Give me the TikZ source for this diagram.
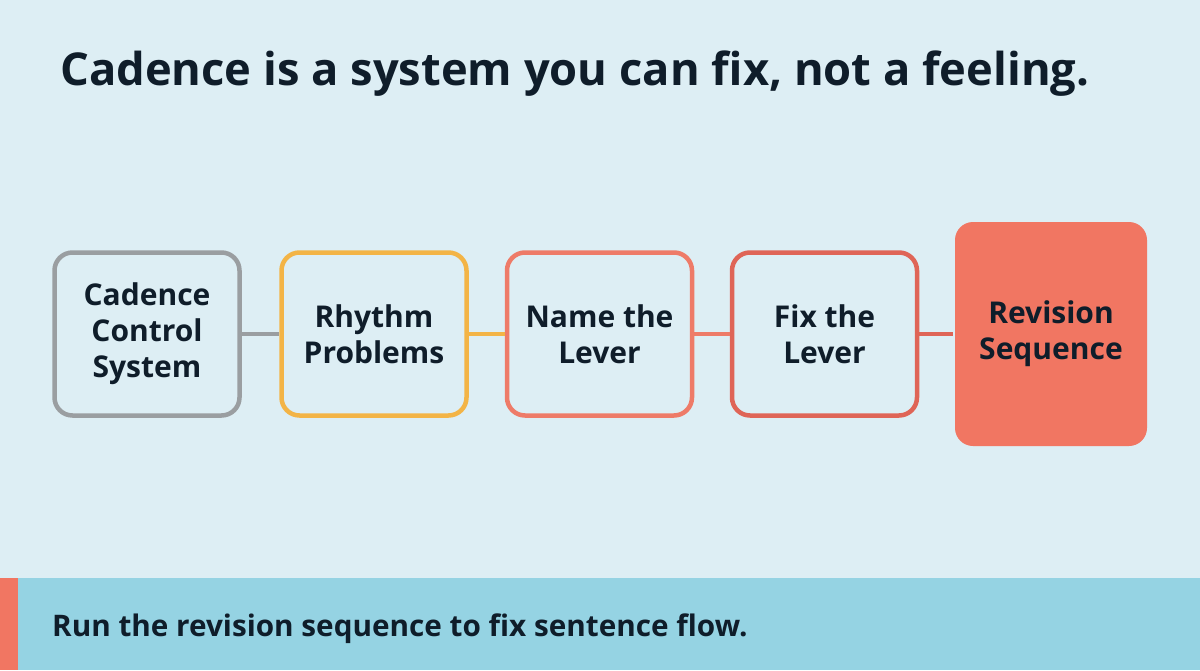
\documentclass[tikz,border=0pt]{standalone}
\usepackage{fontspec}
\setmainfont{Open Sans}
\usepackage{xcolor}
\usetikzlibrary{positioning}
\definecolor{fondo}{HTML}{DDEEF4}
\definecolor{banda}{HTML}{95D3E3}
\definecolor{tinta}{HTML}{0F1D2A}
\definecolor{gris}{HTML}{9A9EA1}
\definecolor{naranja}{HTML}{F3B446}
\definecolor{salmon}{HTML}{EE7B68}
\definecolor{rojo}{HTML}{DF6557}
\definecolor{coral}{HTML}{F17662}
\tikzset{
  etapa/.style  = {draw=#1, line width=4.5pt, rounded corners=18pt, minimum width=185pt,
                   minimum height=163pt, align=center, text=tinta,
                   font=\bfseries\fontsize{30}{36}\selectfont},
  enlace/.style = {draw=#1, line width=4.5pt}
}

\begin{document}
\begin{tikzpicture}[x=1pt, y=-1pt]
  \useasboundingbox (0,0) rectangle (1200,670);
  \fill[fondo] (0,0) rectangle (1200,670);
  \fill[banda] (0,578) rectangle (1200,670);
  \fill[coral] (0,578) rectangle (18,670);
  \node[anchor=base west, inner sep=0pt, text=tinta, font=\bfseries\fontsize{45.3}{50}\selectfont]
    (titulo) at (60,85) {Cadence is a system you can fix, not a feeling.};
  \node[etapa=gris]    (ccs)   at (147,334)   {Cadence\\Control\\System};
  \node[etapa=naranja] (ritmo) at (374,334)   {Rhythm\\Problems};
  \node[etapa=salmon]  (nombr) at (599.5,334) {Name the\\Lever};
  \node[etapa=rojo]    (fija)  at (824.5,334) {Fix the\\Lever};
  \node[etapa=coral, fill=coral, draw=none, minimum width=192pt, minimum height=224pt]
    (revis) at (1051,334) {Revision\\Sequence};
  \draw[enlace=gris]    (ccs)   -- (ritmo);
  \draw[enlace=naranja] (ritmo) -- (nombr);
  \draw[enlace=salmon]  (nombr) -- (fija);
  \draw[enlace=rojo]    (fija)  -- (revis);
  \node[anchor=base west, inner sep=0pt, text=tinta, font=\bfseries\fontsize{29.7}{34}\selectfont]
    (pie) at (52,636) {Run the revision sequence to fix sentence flow.};
\end{tikzpicture}
\end{document}
